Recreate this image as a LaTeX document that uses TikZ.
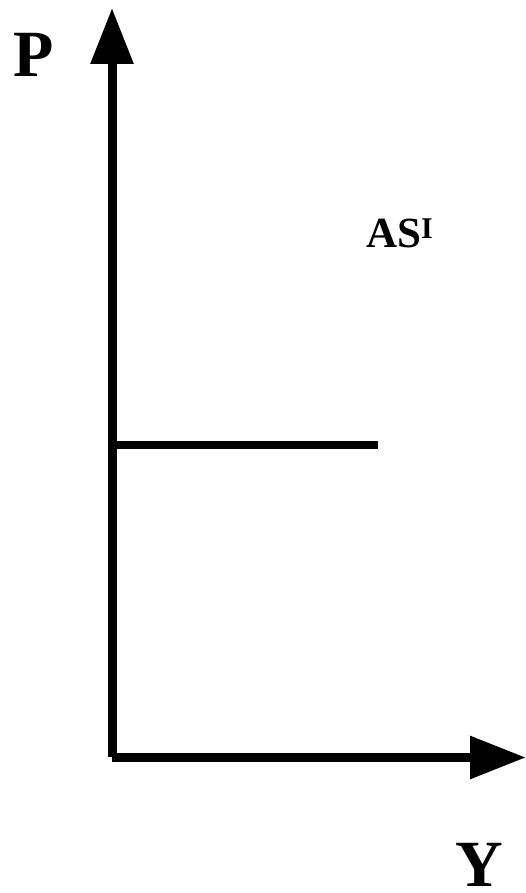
\documentclass[tikz,border=0pt]{standalone}
\usepackage{fontspec}
\setmainfont{Liberation Serif}
\usetikzlibrary{arrows.meta,positioning}
\tikzset{
  axis/.style={line width=9pt,-{Triangle[length=56pt,width=41pt]}},
  asline/.style={line width=8pt},
  biglabel/.style={inner sep=0pt,font=\fontsize{66}{66}\selectfont\bfseries},
  curvelabel/.style={inner sep=0pt,font=\fontsize{43}{43}\selectfont\bfseries}
}
\begin{document}
\begin{tikzpicture}[x=1pt,y=1pt]
  \useasboundingbox (0,0) rectangle (526,893);
  \coordinate (o) at (112,136);
  \coordinate (ptop) at (112,885);
  \coordinate (ho) at (112,135.5);
  \coordinate (yend) at (526,135.5);
  \coordinate (asl) at (112,448);
  \coordinate (asr) at (378,448);
  \draw[axis] (o) -- (ptop);
  \draw[axis] (ho) -- (yend);
  \draw[asline] (asl) -- (asr);
  \node[biglabel,anchor=base west] (plab) at (13,816) {P};
  \node[biglabel,anchor=base] (ylab) at (479,6) {Y};
  \node[curvelabel,anchor=base west] (aslab) at (366,645) {AS\textsuperscript{I}};
\end{tikzpicture}
\end{document}
